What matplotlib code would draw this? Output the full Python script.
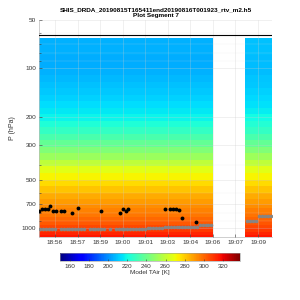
#!/usr/bin/env python3
# SHIS retrieval curtain, plot segment 7 (model air temperature vs pressure)

import numpy as np
import matplotlib
matplotlib.use('Agg')
from matplotlib import pyplot as plt

plt.rcParams['font.family'] = ['Liberation Sans', 'DejaVu Sans']

# time axis is minutes after 18:00
title_txt = 'SHIS_DRDA_20190815T165411end20190816T001923_rtv_m2.h5\nPlot Segment 7'
tick_labels = ['18:56', '18:57', '18:59', '19:00', '19:01',
               '19:03', '19:04', '19:06', '19:07', '19:09']
first_tick, tick_step = 56.17, 1.4444

# two data segments (start, end in minutes, number of scans)
seg1 = (55.145, 66.27, 60)
seg2 = (68.35, 70.07, 9)

# pressure cell edges (hPa) and model temperature per cell (K)
p_edges = [65, 70, 76, 83, 91, 100, 110, 121, 133, 146, 160, 176, 194, 213,
           234, 257, 282, 310, 340, 373, 410, 450, 495, 545, 600, 650, 700,
           750, 800, 850, 900, 950, 1000, 1050, 1100, 1140]
tair_seg1 = [206, 206, 205.5, 205, 205, 205.5, 207, 208.5, 210, 212, 214,
             216, 218.5, 223, 227, 232, 238, 244.5, 251, 259, 267, 272, 277,
             282, 286.5, 290, 293, 295, 297.5, 300, 303, 306.5, 310, 313, 316]
tair_seg2 = [209, 209, 208.5, 208, 208, 208, 209.5, 210.5, 212, 213.5, 215,
             217, 219.5, 223.5, 227.5, 232.5, 238.5, 245, 251.5, 259, 267,
             272, 277, 282, 286.5, 290, 293, 295.5, 298, 300.5, 303.5, 307,
             310, 313, 316]

# surface pressure per scan (grey dots), nan = missing
psfc_seg1 = [1014, 1014, 1014, 1014, 1014, 1014, np.nan, 1014, 1014, 1014,
             1014, 1014, 1014, 1014, 1014, 1014, np.nan, 1014, 1014, 1014,
             1014, 1014, 1014, np.nan, 1014, np.nan, 1014, 1014, 1014, 1014,
             1014, 1014, 1014, 1014, 1014, 1014, 1014, 1000, 1000, 1000,
             1000, 1000, 1000, 985, 985, 985, 985, 985, 985, 972,
             972, 972, 972, 972, 972, 955, 955, 955, 955, 955]
psfc_seg2 = [897, 897, 897, 897, 835, 835, 835, 835, 835]

# cloud top pressure (black dots)
cld_time = [55.158, 55.356, 55.529, 55.690, 55.850, 56.023, 56.215, 56.535,
            56.715, 57.278, 57.663, 59.085, 60.334, 60.507, 60.699, 60.866,
            63.217, 63.537, 63.710, 63.908, 64.088, 64.286, 65.170]
cld_p = [775, 751, 751, 751, 728, 775, 775, 775, 775, 798, 748, 777,
         800, 755, 783, 751, 751, 751, 751, 751, 762, 856, 910]

top_p = 62
vmin, vmax = 149.5, 338
ytick_vals = [50, 100, 200, 300, 500, 700, 1000]


def main():
    fig = plt.figure(figsize=(3, 3), dpi=100)
    ax = fig.add_axes([0.13, 0.21, 0.777, 0.723])

    for seg, tair, psfc in ((seg1, tair_seg1, psfc_seg1), (seg2, tair_seg2, psfc_seg2)):
        t0, t1, n = seg
        t_edges = np.linspace(t0, t1, n + 1)
        t_mid = 0.5 * (t_edges[:-1] + t_edges[1:])
        field = np.tile(np.array(tair)[:, None], (1, n))
        mesh = ax.pcolormesh(t_edges, p_edges, field, cmap='jet',
                             vmin=vmin, vmax=vmax, shading='flat')
        ax.plot(t_mid, psfc, 'o', color='#858585', markersize=2.6,
                markeredgewidth=0, zorder=4)

    ax.plot(cld_time, cld_p, 'o', color='black', markersize=2.8,
            markeredgewidth=0, zorder=5)
    ax.axhline(top_p, color='black', lw=0.8, zorder=5)

    ax.set_yscale('log')
    ax.set_ylim(1130, 50)
    ax.set_xlim(seg1[0], seg2[1])
    ax.set_yticks(ytick_vals)
    ax.set_yticklabels([str(v) for v in ytick_vals])
    ax.set_xticks([first_tick + tick_step * i for i in range(len(tick_labels))])
    ax.set_xticklabels(tick_labels)
    ax.tick_params(axis='both', which='both', direction='in', labelsize=4.6,
                   colors='#333333', length=2, width=0.4, pad=2)
    ax.tick_params(axis='y', which='minor', length=1.2)
    ax.yaxis.set_minor_formatter(matplotlib.ticker.NullFormatter())

    ax.grid(True, which='major', color='#cccccc', lw=0.4, alpha=0.5)
    ax.grid(True, which='minor', axis='y', color='#dddddd', lw=0.3, alpha=0.4)
    ax.set_axisbelow(False)

    for s in ['top', 'right']:
        ax.spines[s].set_visible(False)
    for s in ['left', 'bottom']:
        ax.spines[s].set_color('#bbbbbb')
        ax.spines[s].set_linewidth(0.5)

    ax.set_ylabel('P (hPa)', fontsize=5, color='#333333', labelpad=4)
    ax.set_title(title_txt, fontsize=4.6, fontweight='bold', pad=2, linespacing=1.35)

    cax = fig.add_axes([0.2, 0.13, 0.6, 0.027])
    cb = fig.colorbar(mesh, cax=cax, orientation='horizontal')
    cb.set_ticks(np.arange(160, 321, 20))
    cb.ax.tick_params(labelsize=4.6, colors='#333333', length=1.5, width=0.4,
                      direction='in', pad=2)
    cb.outline.set_edgecolor('#999999')
    cb.outline.set_linewidth(0.4)
    cb.set_label('Model TAir [K]', fontsize=4.6, color='#333333', labelpad=1)

    fig.savefig('out.png', dpi=100)


if __name__ == '__main__':
    main()
